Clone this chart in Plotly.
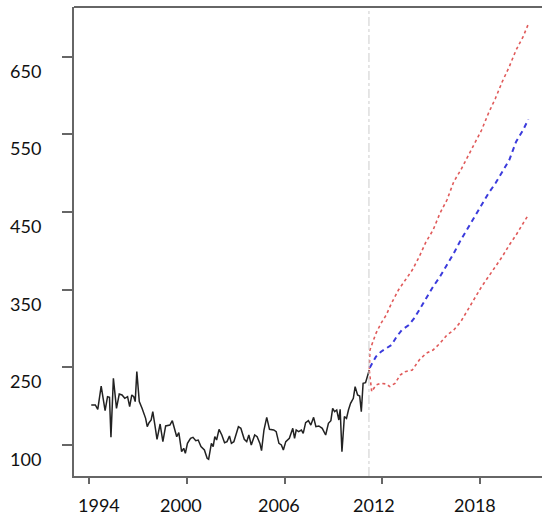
import plotly.graph_objects as go

# ---- observed series (decimal year, value) ----
obs_year = [1994.11, 1994.36, 1994.51, 1994.72, 1994.96, 1995.11, 1995.23, 1995.32, 1995.47, 1995.66,
            1995.83, 1996.00, 1996.17, 1996.34, 1996.47, 1996.60, 1996.72, 1996.81, 1996.91, 1997.06,
            1997.23, 1997.45, 1997.55, 1997.66, 1997.79, 1997.89, 1998.02, 1998.15, 1998.34, 1998.51,
            1998.68, 1998.94, 1999.09, 1999.26, 1999.36, 1999.49, 1999.66, 1999.79, 1999.89, 2000.02,
            2000.21, 2000.36, 2000.53, 2000.68, 2000.85, 2001.06, 2001.23, 2001.32, 2001.49, 2001.60,
            2001.70, 2001.81, 2001.96, 2002.13, 2002.30, 2002.45, 2002.60, 2002.72, 2002.87, 2003.15,
            2003.30, 2003.51, 2003.66, 2003.79, 2003.94, 2004.15, 2004.30, 2004.47, 2004.57, 2004.72,
            2004.89, 2005.06, 2005.32, 2005.47, 2005.64, 2005.79, 2005.91, 2006.06, 2006.28, 2006.49,
            2006.60, 2006.70, 2006.85, 2007.02, 2007.13, 2007.28, 2007.45, 2007.60, 2007.77, 2007.91,
            2008.09, 2008.30, 2008.51, 2008.68, 2008.83, 2008.94, 2009.06, 2009.19, 2009.32, 2009.40,
            2009.51, 2009.66, 2009.79, 2009.91, 2010.04, 2010.21, 2010.32, 2010.47, 2010.60, 2010.70,
            2010.81, 2010.96, 2011.06, 2011.19]
obs_value = [201.5, 201.5, 195.9, 225.9, 194.2, 212.2, 211.3, 159.9, 235.8, 197.2,
             215.6, 214.4, 210.1, 212.2, 199.3, 214.4, 212.2, 205.8, 244.4, 205.8,
             197.2, 184.3, 173.6, 178.7, 182.2, 192.9, 175.7, 157.3, 177.0, 154.3,
             174.5, 175.7, 181.3, 165.9, 160.7, 165.9, 141.4, 145.7, 139.3, 152.1,
             158.6, 159.9, 155.6, 156.4, 147.9, 143.6, 132.8, 131.6, 152.1, 147.9,
             160.7, 156.4, 170.2, 162.9, 153.0, 154.3, 161.6, 152.1, 154.3, 173.6,
             171.5, 157.3, 154.3, 162.9, 150.0, 162.9, 160.7, 152.1, 142.7, 169.3,
             185.6, 170.2, 169.3, 167.2, 152.1, 150.0, 143.6, 154.3, 158.6, 171.5,
             158.6, 169.3, 167.2, 169.3, 165.0, 178.7, 181.3, 175.7, 185.6, 173.6,
             174.5, 171.5, 162.9, 177.9, 181.3, 197.2, 192.9, 195.0, 182.2, 195.9,
             141.4, 186.5, 184.3, 195.0, 203.6, 210.1, 225.1, 214.4, 213.1, 192.9,
             229.4, 230.2, 237.9, 246.5]

# ---- forecast (decimal year) ----
fc_year = [2011.22, 2011.60, 2011.91, 2012.23, 2012.55, 2012.87, 2013.19, 2013.62, 2013.94, 2014.26,
           2014.68, 2015.11, 2015.53, 2015.96, 2016.38, 2016.81, 2017.23, 2017.66, 2018.09, 2018.51,
           2018.94, 2019.36, 2019.79, 2020.21, 2020.64, 2020.96]
fc_mean = [249.5, 263.7, 270.1, 274.4, 278.7, 289.4, 298.0, 304.4, 313.0, 323.7,
           338.8, 353.8, 366.6, 381.7, 396.7, 413.8, 428.8, 443.9, 458.9, 473.9,
           486.8, 501.8, 516.8, 540.4, 555.4, 569.1]

up_year = [2011.19, 2011.23, 2011.60, 2011.91, 2012.23, 2012.55, 2012.98, 2013.40, 2013.83, 2014.26,
           2014.68, 2015.11, 2015.53, 2015.96, 2016.38, 2016.81, 2017.23, 2017.66, 2018.09, 2018.51,
           2018.94, 2019.36, 2019.79, 2020.21, 2020.64, 2020.96]
fc_upper = [248.0, 272.3, 293.7, 306.6, 317.3, 332.3, 349.5, 362.4, 375.2, 392.4,
            411.7, 426.7, 448.2, 465.3, 488.9, 503.9, 521.1, 538.2, 555.4, 576.9,
            596.2, 617.6, 636.9, 658.4, 675.5, 691.8]

lo_year = [2011.19, 2011.34, 2011.60, 2011.91, 2012.23, 2012.45, 2012.77, 2013.09, 2013.40, 2013.83,
           2014.26, 2014.68, 2015.11, 2015.53, 2015.96, 2016.38, 2016.81, 2017.23, 2017.66, 2018.09,
           2018.51, 2018.94, 2019.36, 2019.79, 2020.21, 2020.64, 2020.96]
fc_lower = [246.0, 218.6, 227.2, 229.4, 228.5, 225.1, 229.4, 240.1, 244.4, 246.5,
            259.4, 268.0, 272.3, 280.8, 291.6, 298.0, 308.7, 323.7, 338.8, 353.8,
            366.6, 379.5, 392.4, 407.4, 420.3, 435.3, 446.0]

forecast_origin = 2011.17

x_tick_vals = [1994, 2000, 2006, 2012, 2018]
x_tick_text = ["1994", "2000", "2006", "2012", "2018"]
y_tick_vals = [150, 250, 350, 450, 550, 650]
y_tick_text = ["100", "250", "350", "450", "550", "650"]

# label pixel offsets (style)
x_label_shift = [10, -6, -6, -8, -5]

FONT = "Lato"

fig = go.Figure()
fig.add_trace(go.Scatter(x=obs_year, y=obs_value, mode="lines",
                         line=dict(color="#222222", width=1.5), showlegend=False))
fig.add_trace(go.Scatter(x=up_year, y=fc_upper, mode="lines",
                         line=dict(color="#e05a5a", width=1.6, dash="dot"), showlegend=False))
fig.add_trace(go.Scatter(x=lo_year, y=fc_lower, mode="lines",
                         line=dict(color="#e05a5a", width=1.6, dash="dot"), showlegend=False))
fig.add_trace(go.Scatter(x=fc_year, y=fc_mean, mode="lines",
                         line=dict(color="#3b3bdc", width=2, dash="5px,4px"), showlegend=False))

fig.add_vline(x=forecast_origin, line=dict(color="#cccccc", width=1, dash="dashdot"))

# top border of the box
fig.add_shape(type="line", xref="paper", yref="paper", x0=0, x1=1.02, y0=1, y1=1,
              line=dict(color="#666666", width=2))

annotations = []
for v, t in zip(y_tick_vals, y_tick_text):
    annotations.append(dict(x=0, xref="paper", y=v, yref="y", text=t, showarrow=False,
                            xanchor="center", yanchor="middle", xshift=-49, yshift=-14,
                            font=dict(family=FONT, size=18, color="#111111")))
for v, t, s in zip(x_tick_vals, x_tick_text, x_label_shift):
    annotations.append(dict(x=v, xref="x", y=0, yref="paper", text=t, showarrow=False,
                            xanchor="center", yanchor="middle", xshift=s, yshift=-29,
                            font=dict(family=FONT, size=18, color="#111111")))

fig.update_layout(
    width=542, height=518,
    margin=dict(l=74, r=0, t=7, b=42),
    plot_bgcolor="white", paper_bgcolor="white",
    annotations=annotations,
    xaxis=dict(range=[1993.05, 2021.8], tickvals=x_tick_vals, ticktext=["" for _ in x_tick_vals],
               showgrid=False, zeroline=False, showline=True, linecolor="#666666", linewidth=2,
               ticks="outside", ticklen=6, tickwidth=2, tickcolor="#666666"),
    yaxis=dict(range=[110.1, 713.7], tickvals=y_tick_vals, ticktext=["" for _ in y_tick_vals],
               showgrid=False, zeroline=False, showline=True, linecolor="#666666", linewidth=2,
               ticks="outside", ticklen=10, tickwidth=2, tickcolor="#666666"),
)

fig.write_html("out.html")
